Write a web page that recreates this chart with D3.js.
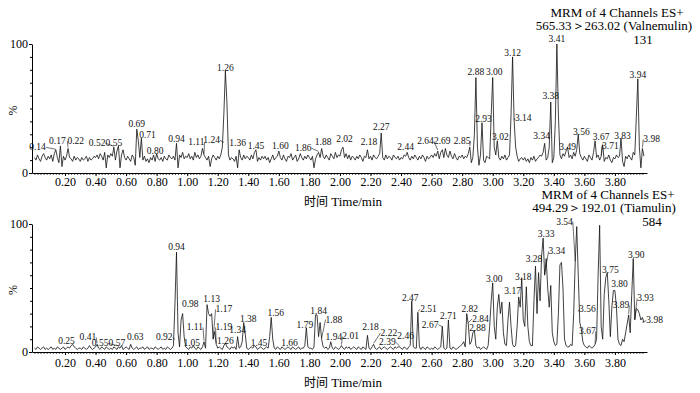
<!DOCTYPE html>
<html>
<head>
<meta charset="utf-8">
<title>MRM chromatogram</title>
<style>
    body { margin: 0; background: #fff; }
    svg { display: block; }
    svg text { font-family: "Times New Roman", "Liberation Serif", Times, "DejaVu Serif", serif; }
    .trace { fill: none; stroke: #111; stroke-width: 0.8; stroke-linejoin: miter; }
    .peak { font-size: 9.5px; fill: #111; }
    .leader { stroke: #111; stroke-width: 0.6; }
    .axis text { font-size: 12px; fill: #000; }
    .axis path, .axis line { stroke: #000; }
    .head { font-size: 13px; fill: #000; }
    .cjk { font-family: "Noto Sans CJK SC", sans-serif; }
</style>
</head>
<body>
<div id="chart"></div>
<script src="https://d3js.org/d3.v7.min.js"></script>
<script>
    // signal sampled every 0.01 min, starting at 0.00 min (one row = 0.1 min)
    const timeStep = 0.01;

    const valnemulinSignal = [
        12,10,14,11,9,13,15,12,10,13,
        11,14,9,15,18,12,8,21,5,13,
        10,13,19,12,11,9,13,10,12,11,
        9,12,10,11,13,9,12,10,11,13,
        12,14,11,15,13,10,16,4,14,12,
        15,13,20,10,17,21,4,14,18,12,
        10,13,11,9,14,12,6,34,25,12,
        27,10,13,9,11,8,12,10,14,9,
        15,11,10,12,9,13,11,10,14,12,
        11,13,10,23,4,14,12,16,11,13,
        12,15,11,13,10,16,12,14,11,13,
        19,14,12,10,13,5,11,14,12,10,
        13,11,14,20,46,79,55,14,10,12,
        11,9,13,4,18,12,10,14,11,13,
        12,10,14,11,16,18,9,12,10,13,
        11,13,10,12,8,11,14,10,12,13,
        17,12,10,14,11,9,13,12,15,10,
        12,14,9,11,15,12,10,13,11,14,
        12,10,13,4,11,14,16,12,19,13,
        11,14,12,10,15,13,11,16,12,14,
        13,18,20,12,15,11,14,10,13,12,
        10,13,11,14,12,9,13,12,18,11,
        13,10,14,12,11,13,15,31,12,10,
        14,11,13,12,10,14,12,11,13,10,
        12,11,14,13,16,12,10,13,11,14,
        12,10,13,11,14,12,9,13,11,12,
        14,12,15,13,17,11,16,18,12,19,
        14,12,17,13,11,15,12,10,13,12,
        14,11,13,12,15,20,8,12,30,74,
        20,6,14,39,10,8,13,12,11,45,
        74,20,14,25,12,10,13,11,14,10,
        12,14,45,90,41,20,13,9,11,12,
        10,12,9,11,8,12,10,13,9,11,
        12,14,13,16,23,10,12,20,55,8,
        12,40,100,45,14,11,15,13,17,20,
        12,14,11,16,13,18,30,15,12,10,
        13,11,9,14,12,10,16,25,12,14,
        10,13,22,9,12,11,14,10,8,12,
        11,14,12,13,27,9,5,13,11,14,
        12,10,16,14,43,73,20,4,19,13
    ];

    const tiamulinSignal = [
        3,2,4,3,2,3,4,2,3,2,
        3,4,2,3,2,4,3,2,3,4,
        2,3,4,3,5,6,4,3,2,3,
        3,2,4,3,2,3,5,3,2,3,
        4,6,3,2,4,3,2,4,3,2,
        3,2,4,3,2,4,3,5,2,3,
        4,3,2,6,3,2,3,4,2,3,
        3,4,2,3,4,2,3,3,2,4,
        3,2,3,4,2,3,2,4,3,2,
        3,5,38,78,15,4,25,30,12,4,
        3,2,4,3,5,3,2,4,3,2,
        4,8,3,37,30,28,30,10,16,6,
        3,4,3,2,5,7,4,3,2,4,
        3,4,2,12,3,4,8,23,14,3,
        2,3,4,3,5,4,2,3,4,3,
        2,3,4,3,12,27,10,3,2,4,
        3,2,4,3,2,3,4,3,2,4,
        3,2,3,4,2,3,3,5,19,4,
        3,3,2,4,29,29,12,23,10,4,
        3,4,2,3,8,3,2,4,3,2,
        3,5,3,2,4,3,4,2,3,4,
        3,2,4,3,2,4,3,2,13,3,
        2,4,6,3,2,3,4,2,3,4,
        3,2,3,4,3,2,4,3,4,4,
        3,2,4,3,2,4,5,40,4,3,
        3,31,4,2,4,3,2,4,3,2,
        3,2,4,3,2,3,4,20,3,2,
        3,25,3,2,4,3,2,3,4,5,
        6,8,4,30,22,6,8,15,17,5,
        3,4,2,3,4,3,2,5,20,40,
        54,20,10,35,45,30,39,15,6,5,
        25,39,20,6,4,5,20,43,35,58,
        25,20,51,20,8,5,5,40,67,30,
        62,40,75,89,60,73,50,35,52,15,
        8,5,6,30,68,70,50,10,5,4,
        4,6,5,30,70,98,60,23,18,8,
        5,4,3,5,4,3,4,6,10,60,
        99,20,10,45,58,62,40,12,35,48,
        48,35,10,6,5,10,8,15,22,29,
        15,45,73,25,34,33,30,25,27,23
    ];

    // peak labels: [text, time where the label sits, % height of label baseline]
    const valnemulinLabels = [
        ["0.14",0.02,17.6],["0.17",0.15,22.3],["0.22",0.27,22.3],["0.52",0.41,20.7],["0.55",0.52,20.7],
        ["0.69",0.67,35.5],["0.71",0.74,27],["0.80",0.79,14.5],["0.94",0.93,23.8],["1.11",1.06,21.5],
        ["1.24",1.16,23],["1.26",1.25,79.3],["1.36",1.33,20.7],["1.45",1.45,18.4],["1.60",1.61,18.4],
        ["1.86",1.76,16.8],["1.88",1.89,21.5],["2.02",2.03,23.8],["2.18",2.19,21.5],["2.27",2.27,33.2],
        ["2.44",2.43,17.6],["2.64",2.56,22.3],["2.69",2.67,22.3],["2.85",2.80,22.3],["2.88",2.89,76.2],
        ["2.93",2.94,39.5],["3.00",3.01,76.2],["3.02",3.05,25.4],["3.12",3.13,91],["3.14",3.20,40.2],
        ["3.34",3.32,26.2],["3.38",3.38,57.4],["3.41",3.42,101.2],["3.49",3.49,17.6],["3.56",3.58,29.3],
        ["3.67",3.71,25.4],["3.71",3.77,18.8],["3.83",3.85,26.2],["3.94",3.95,73.8],["3.98",4.04,23.8]
    ];

    const tiamulinLabels = [
        ["0.25",0.21,5.9],["0.41",0.35,9],["0.55",0.43,4.3],["0.57",0.54,5],["0.63",0.66,9],
        ["0.92",0.85,9],["0.94",0.93,79.3],["0.98",1.02,34.8],["1.11",1.05,16.8],["1.05",1.03,4.3],
        ["1.13",1.16,38.7],["1.17",1.24,30.9],["1.19",1.24,16.8],["1.26",1.25,6.6],["1.34",1.33,14.5],
        ["1.38",1.40,23.8],["1.45",1.47,5],["1.56",1.58,28.5],["1.66",1.67,5],["1.79",1.77,19],
        ["1.84",1.86,30],["1.88",1.96,23],["1.94",1.96,9],["2.01",2.07,9.8],["2.18",2.20,16.8],
        ["2.22",2.32,12.5],["2.39",2.31,5.4],["2.46",2.43,9.8],["2.47",2.46,40.2],["2.51",2.58,30.9],
        ["2.67",2.59,19],["2.71",2.71,25.4],["2.82",2.85,30.9],["2.84",2.92,23.5],["2.88",2.90,16.3],
        ["3.00",3.01,54.3],["3.17",3.13,45.7],["3.18",3.20,56.6],["3.28",3.27,70],["3.33",3.35,90.2],
        ["3.34",3.42,76.2],["3.54",3.47,99.6],["3.56",3.62,30.9],["3.67",3.62,13.7],["3.75",3.77,62],
        ["3.80",3.83,50.4],["3.89",3.84,34],["3.90",3.94,73.8],["3.93",4.00,39.5],["3.98",4.06,22.3]
    ];

    const xTickLabels = ["0.20","0.40","0.60","0.80","1.00","1.20","1.40","1.60","1.80","2.00",
        "2.20","2.40","2.60","2.80","3.00","3.20","3.40","3.60","3.80"];
    const yTickLabels = ["0", "100"];

    const valnemulinHeader = ["MRM of 4 Channels ES+", "565.33＞263.02 (Valnemulin)", "131"];
    const tiamulinHeader = ["MRM of 4 Channels ES+", "494.29＞192.01 (Tiamulin)", "584"];
    const xTitleCn = "时间";
    const xTitleEn = "Time/min";

    const width = 700, height = 393;

    const svg = d3.select("#chart").append("svg")
        .attr("width", width)
        .attr("height", height);

    svg.append("rect").attr("width", width).attr("height", height).attr("fill", "#fff");

    const x = d3.scaleLinear().domain([-0.016, 4.01]).range([32, 647]);

    function drawPanel(signal, labels, header, opt) {
        const y = d3.scaleLinear().domain([0, 100]).range([opt.y0, opt.y100]);
        const g = svg.append("g");

        // minor ticks along time axis
        const minor = g.append("g").attr("class", "axis")
            .attr("transform", `translate(0,${opt.y0})`)
            .call(d3.axisBottom(x).tickValues(d3.range(0, 4.0, 0.02)).tickSize(2).tickFormat("").tickSizeOuter(0));
        minor.selectAll("line").attr("stroke-width", 0.7);

        const xAxis = g.append("g").attr("class", "axis")
            .attr("transform", `translate(0,${opt.y0})`)
            .call(d3.axisBottom(x).tickValues(xTickLabels.map(Number)).tickSize(3)
                .tickPadding(opt.pad).tickFormat(d3.format(".2f")).tickSizeOuter(0));
        xAxis.select(".domain").remove();

        const yMinor = g.append("g").attr("class", "axis")
            .attr("transform", "translate(32,0)")
            .call(d3.axisLeft(y).tickValues(d3.range(10, 100, 10)).tickSize(2).tickFormat("").tickSizeOuter(0));
        yMinor.select(".domain").remove();

        g.append("g").attr("class", "axis")
            .attr("transform", "translate(32,0)")
            .call(d3.axisLeft(y).tickValues(yTickLabels.map(Number)).tickSize(3).tickPadding(1).tickSizeOuter(0));

        g.append("text").attr("class", "head")
            .attr("transform", `translate(17,${(opt.y0 + opt.y100) / 2 + 2}) rotate(-90)`)
            .attr("text-anchor", "middle")
            .style("font-size", "12px")
            .text("%");

        const line = d3.line()
            .x((d, i) => x(i * timeStep))
            .y(d => y(d));

        g.append("path").datum(signal).attr("class", "trace").attr("d", line);

        labels.forEach(([txt, lt, lp]) => {
            const t = g.append("text").attr("class", "peak")
                .attr("x", x(lt)).attr("y", y(lp))
                .attr("text-anchor", "middle")
                .text(txt);
            const pt = +txt, px = x(pt), lx = x(lt);
            if (Math.abs(px - lx) > 7) {
                const w = t.node().getComputedTextLength() / 2;
                const v = Math.min(signal[Math.round(pt / timeStep)], lp);
                g.append("line").attr("class", "leader")
                    .attr("x1", px > lx ? lx + w : lx - w).attr("y1", y(lp) - 3)
                    .attr("x2", px).attr("y2", y(v) - 1);
            }
        });

        header.forEach((h, i) => {
            g.append("text").attr("class", "head")
                .attr("x", opt.headX[i]).attr("y", opt.headY + i * 13.5)
                .attr("text-anchor", "middle")
                .text(h);
        });

        const title = g.append("text").attr("class", "head")
            .attr("x", 343).attr("y", opt.titleY)
            .attr("text-anchor", "middle");
        title.append("tspan").attr("class", "cjk").style("font-size", "12px").text(xTitleCn);
        title.append("tspan").text(" " + xTitleEn);
    }

    drawPanel(valnemulinSignal, valnemulinLabels, valnemulinHeader,
        { y0: 173, y100: 44, pad: 1, headX: [617, 614, 643], headY: 16.5, titleY: 206 });
    drawPanel(tiamulinSignal, tiamulinLabels, tiamulinHeader,
        { y0: 352, y100: 224, pad: 3, headX: [608, 604, 652], headY: 198.5, titleY: 387 });
</script>
</body>
</html>
